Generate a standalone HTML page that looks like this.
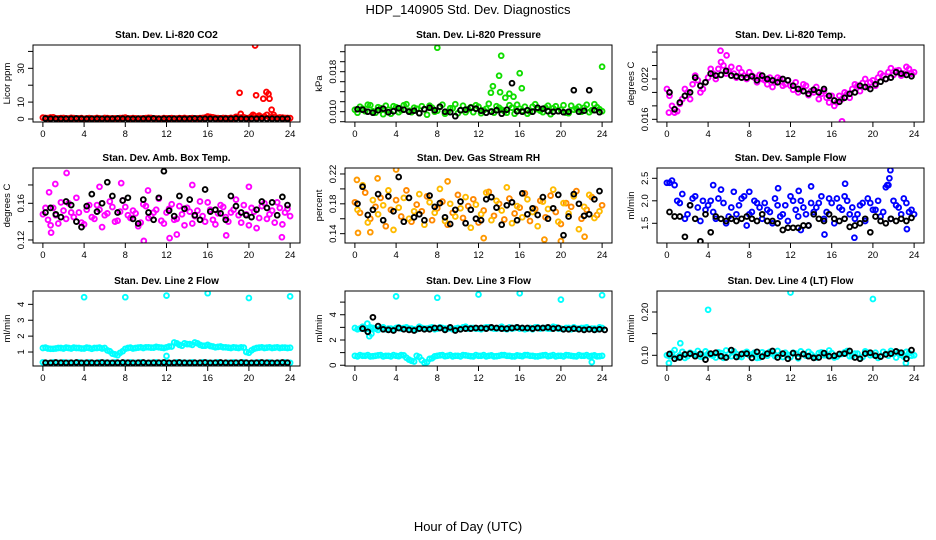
<!DOCTYPE html>
<html><head><meta charset="utf-8">
<style>
html,body{margin:0;padding:0;background:#fff;}
svg{display:block;font-family:"Liberation Sans",Arial,sans-serif;}
</style></head>
<body>
<svg id="chart" width="936" height="540" viewBox="0 0 936 540" xmlns="http://www.w3.org/2000/svg">
<text x="468" y="14" text-anchor="middle" font-size="13">HDP_140905  Std. Dev. Diagnostics</text>
<text x="468" y="531" text-anchor="middle" font-size="13">Hour of Day (UTC)</text>
</svg>
<script>
// ---------- data ----------
const xTicks = [0,4,8,12,16,20,24];

// Panel 1: CO2
const co2Red = [0.8,0.5,1.0,0.4,0.6,0.3,0.5,0.4,0.2,0.5,0.3,0.4,0.6,0.3,0.4,0.5,0.8,0.3,0.4,0.3,0.5,0.6,0.3,0.2,0.4,0.5,0.3,0.4,0.3,0.5,0.4,0.6,1.5,1.0,0.5,0.6,0.4,0.5,0.8,1.0,0.6,2.0,1.2,1.5,0.8,1.0,0.9,0.6,0.5];
const co2Red2 = [0.6,0.9,0.3,0.5,0.4,0.7,0.3,0.5,0.4,0.3,0.6,0.2,0.5,0.4,0.3,0.6,0.4,0.5,0.3,0.4,0.7,0.4,0.3,0.5,0.4,0.3,0.5,0.6,0.4,0.3,0.5,0.8,1.2,0.6,0.4,0.5,0.7,1.3,0.9,0.5,1.5,0.8,1.0,2.5,1.2,0.7,0.8,0.6];
const co2Black = [0.3,0.2,0.2,0.1,0.2,0.2,0.3,0.2,0.1,0.2,0.2,0.2,0.1,0.2,0.3,0.2,0.2,0.1,0.2,0.2,0.2,0.3,0.1,0.2,0.2,0.2,0.2,0.1,0.2,0.3,0.2,0.2,0.2,0.1,0.2,0.2,0.2,0.3,0.2,0.1,0.2,0.2,0.3,0.2,0.2,0.1,0.2,0.2];
const co2OutHours = [19.1,19.2,20.4,20.6,20.7,21.4,21.7,21.9,22.0,22.2,22.4,21.0];
const co2OutValues = [15.5,3,2.5,43.5,14,12,16,14.8,12,5.5,2.5,2.0];
const co2YTicks = [0,10,20,30,40];
const co2YLabels = ["0","10","","30",""];

// Panel 2: Pressure
const presGreen = [0.0104,0.0110,0.0101,0.0113,0.0098,0.0107,0.0112,0.0096,0.0109,0.0103,0.0115,0.0099,0.0106,0.0111,0.0094,0.0108,0.0102,0.0114,0.0100,0.0107,0.0097,0.0112,0.0105,0.0099,0.0110,0.0103,0.0116,0.0098,0.0108,0.0101,0.0113,0.0096,0.0106,0.0110,0.0100,0.0115,0.0102,0.0108,0.0095,0.0111,0.0104,0.0098,0.0112,0.0106,0.0100,0.0114,0.0103,0.0109,0.0101];
const presGreen2 = [0.0098,0.0106,0.0114,0.0101,0.0109,0.0095,0.0104,0.0111,0.0099,0.0113,0.0102,0.0108,0.0097,0.0105,0.0112,0.0100,0.0110,0.0096,0.0107,0.0115,0.0103,0.0099,0.0109,0.0113,0.0097,0.0106,0.0101,0.0111,0.0104,0.0098,0.0108,0.0114,0.0102,0.0096,0.0110,0.0105,0.0099,0.0112,0.0107,0.0101,0.0113,0.0097,0.0104,0.0110,0.0108,0.0099,0.0115,0.0105];
const presBlack = [0.0105,0.0104,0.0100,0.0098,0.0103,0.0106,0.0099,0.0101,0.0107,0.0104,0.0100,0.0102,0.0097,0.0105,0.0108,0.0103,0.0110,0.0100,0.0099,0.0091,0.0103,0.0104,0.0108,0.0106,0.0102,0.0098,0.0100,0.0103,0.0096,0.0104,0.0157,0.0101,0.0100,0.0103,0.0100,0.0108,0.0106,0.0101,0.0100,0.0101,0.0099,0.0100,0.0143,0.0100,0.0102,0.0143,0.0103,0.0099];
const presOutHours = [8.0,14.2,14.0,16.0,16.2,13.4,13.2,14.1,15.0,15.4,24.0,14.6];
const presOutValues = [0.0228,0.0212,0.0172,0.0177,0.0147,0.0151,0.0138,0.0139,0.0136,0.0130,0.0190,0.0128];
const presYTicks = [0.008,0.010,0.012,0.014,0.016,0.018,0.020,0.022];
const presYLabels = ["","0.010","","","","0.018","",""];

// Panel 3: Li-820 temp
const tempMag = [0.0205,0.0180,0.0172,0.0190,0.0200,0.0212,0.0218,0.0205,0.0222,0.0228,0.0235,0.0240,0.0232,0.0228,0.0236,0.0225,0.0230,0.0222,0.0226,0.0218,0.0222,0.0215,0.0220,0.0212,0.0210,0.0215,0.0205,0.0210,0.0202,0.0208,0.0198,0.0192,0.0195,0.0185,0.0190,0.0198,0.0205,0.0210,0.0214,0.0208,0.0218,0.0222,0.0225,0.0230,0.0226,0.0233,0.0228,0.0235,0.0230];
const tempMag2 = [0.0195,0.0170,0.0183,0.0205,0.0190,0.0225,0.0200,0.0215,0.0235,0.0220,0.0245,0.0228,0.0238,0.0222,0.0230,0.0220,0.0225,0.0215,0.0220,0.0212,0.0208,0.0222,0.0210,0.0218,0.0204,0.0200,0.0212,0.0196,0.0200,0.0190,0.0202,0.0185,0.0180,0.0195,0.0200,0.0192,0.0212,0.0202,0.0220,0.0215,0.0210,0.0228,0.0220,0.0236,0.0232,0.0225,0.0238,0.0228];
const tempBlack = [0.0200,0.0175,0.0185,0.0195,0.0200,0.0222,0.0210,0.0215,0.0228,0.0225,0.0226,0.0232,0.0225,0.0224,0.0222,0.0222,0.0224,0.0218,0.0225,0.0220,0.0218,0.0215,0.0220,0.0218,0.0210,0.0205,0.0202,0.0198,0.0204,0.0200,0.0205,0.0195,0.0188,0.0186,0.0192,0.0198,0.0200,0.0210,0.0208,0.0205,0.0212,0.0216,0.0220,0.0222,0.0230,0.0228,0.0226,0.0224];
const tempOutHours = [5.2,5.8,17.0,0.2];
const tempOutValues = [0.0262,0.0255,0.0157,0.0170];
const tempYTicks = [0.016,0.018,0.020,0.022,0.024,0.026];
const tempYLabels = ["0.016","","","0.022","",""];

// Panel 4: Amb box temp
const ambMag = [0.148,0.142,0.155,0.138,0.152,0.160,0.145,0.150,0.137,0.158,0.143,0.153,0.147,0.162,0.140,0.151,0.156,0.144,0.149,0.139,0.157,0.146,0.153,0.141,0.150,0.159,0.143,0.148,0.155,0.138,0.152,0.146,0.161,0.142,0.149,0.156,0.140,0.153,0.147,0.158,0.136,0.151,0.144,0.160,0.148,0.139,0.155,0.150,0.146];
const ambMag2 = [0.155,0.136,0.147,0.161,0.143,0.150,0.166,0.139,0.153,0.145,0.158,0.134,0.149,0.156,0.141,0.163,0.147,0.152,0.135,0.159,0.144,0.150,0.165,0.138,0.154,0.142,0.157,0.136,0.151,0.146,0.162,0.140,0.153,0.137,0.158,0.145,0.150,0.164,0.139,0.148,0.155,0.133,0.157,0.143,0.152,0.161,0.137,0.154];
const ambBlack = [0.150,0.155,0.148,0.145,0.162,0.158,0.140,0.134,0.157,0.170,0.151,0.160,0.183,0.168,0.150,0.163,0.166,0.143,0.138,0.164,0.150,0.142,0.166,0.195,0.152,0.146,0.168,0.154,0.164,0.147,0.142,0.175,0.151,0.153,0.149,0.142,0.168,0.157,0.150,0.147,0.145,0.153,0.162,0.155,0.161,0.147,0.167,0.158];
const ambOutHours = [1.2,2.3,0.6,5.5,9.8,10.2,12.3,13.0,17.8,20.0,23.2,0.8,7.6,14.5];
const ambOutValues = [0.181,0.193,0.172,0.178,0.119,0.174,0.122,0.126,0.125,0.178,0.123,0.128,0.182,0.180];
const ambYTicks = [0.12,0.14,0.16,0.18];
const ambYLabels = ["0.12","","0.16",""];

// Panel 5: Gas stream RH
const rhOrange = [0.182,0.168,0.195,0.160,0.176,0.188,0.150,0.172,0.185,0.163,0.198,0.156,0.179,0.170,0.190,0.158,0.174,0.183,0.152,0.168,0.192,0.161,0.177,0.186,0.155,0.171,0.196,0.164,0.180,0.159,0.187,0.167,0.175,0.194,0.157,0.173,0.184,0.162,0.191,0.169,0.153,0.181,0.176,0.197,0.160,0.172,0.189,0.165,0.178];
const rhYellow = [0.172,0.205,0.155,0.185,0.166,0.178,0.198,0.145,0.175,0.188,0.160,0.170,0.193,0.152,0.182,0.168,0.200,0.157,0.180,0.163,0.174,0.189,0.148,0.179,0.166,0.195,0.158,0.184,0.171,0.202,0.154,0.177,0.162,0.186,0.169,0.150,0.183,0.173,0.199,0.156,0.181,0.167,0.190,0.146,0.176,0.192,0.161,0.170];
const rhBlack = [0.180,0.203,0.165,0.172,0.193,0.158,0.190,0.170,0.216,0.156,0.188,0.162,0.166,0.158,0.191,0.176,0.181,0.162,0.153,0.172,0.183,0.154,0.172,0.160,0.158,0.186,0.189,0.175,0.152,0.178,0.182,0.158,0.194,0.166,0.174,0.165,0.189,0.160,0.174,0.192,0.138,0.163,0.193,0.180,0.164,0.166,0.186,0.197];
const rhOutHours = [0.3,4.0,1.5,20.0,18.4,22.3,12.5,9.0,0.2,2.2];
const rhOutValues = [0.141,0.226,0.142,0.130,0.132,0.136,0.134,0.210,0.212,0.214];
const rhYTicks = [0.14,0.16,0.18,0.20,0.22];
const rhYLabels = ["0.14","","0.18","","0.22"];

// Panel 6: Sample flow
const flowBlue = [2.40,2.45,2.00,2.15,1.70,2.05,1.85,2.00,1.90,1.75,2.05,1.95,1.65,2.20,1.90,2.10,1.70,2.00,1.85,1.95,1.75,2.05,1.65,1.90,2.10,1.80,2.00,1.70,1.95,1.85,2.10,1.75,1.95,2.05,1.80,2.00,1.85,1.70,1.95,2.05,1.80,2.00,1.75,2.35,2.00,1.85,2.05,1.75,1.70];
const flowBlue2 = [2.40,2.35,1.95,1.60,1.90,2.10,1.55,1.80,2.00,1.60,2.25,1.50,1.85,1.70,2.05,1.45,1.75,1.95,1.60,1.80,1.50,1.90,1.70,1.55,2.00,1.65,1.85,1.45,1.75,1.95,1.60,2.05,1.50,1.85,2.10,1.70,1.60,1.90,1.55,1.95,1.80,1.65,2.30,1.60,1.90,1.70,1.95,1.80];
const flowBlack = [1.75,1.65,1.65,1.20,1.90,1.60,1.10,1.70,1.30,1.65,1.60,1.55,1.60,1.55,1.60,1.65,1.60,1.55,1.70,1.55,1.55,1.50,1.35,1.40,1.40,1.40,1.45,1.45,1.70,1.60,1.55,1.70,1.60,1.55,1.60,1.42,1.45,1.50,1.60,1.30,1.65,1.55,1.50,1.60,1.55,1.60,1.55,1.62];
const flowOutHours = [21.7,21.6,21.4,17.3,14.0,8.0,4.5,23.3,18.2,15.3,13.0,10.8,12.8];
const flowOutValues = [2.68,2.50,2.35,2.38,2.32,2.20,2.35,1.37,1.18,1.25,1.35,2.28,2.22];
const flowYTicks = [1.5,2.0,2.5];
const flowYLabels = ["1.5","2.0","2.5"];

// Panel 7: Line 2 flow
const l2Cyan = [1.25,1.22,1.20,1.25,1.22,1.25,1.28,1.25,1.22,1.25,1.25,1.28,1.25,1.05,0.85,0.95,1.20,1.28,1.25,1.30,1.30,1.28,1.32,1.28,1.30,1.35,1.55,1.40,1.50,1.45,1.55,1.40,1.45,1.35,1.32,1.30,1.28,1.30,1.25,1.28,0.95,1.20,1.28,1.25,1.30,1.28,1.25,1.28,1.27];
const l2Cyan2 = [1.28,1.20,1.22,1.25,1.28,1.22,1.25,1.22,1.28,1.20,1.25,1.22,1.10,0.90,0.80,1.05,1.25,1.22,1.28,1.25,1.30,1.28,1.30,1.25,1.35,1.60,1.45,1.55,1.50,1.60,1.45,1.40,1.38,1.30,1.35,1.30,1.25,1.28,1.30,1.00,1.10,1.25,1.30,1.28,1.25,1.30,1.28,1.25];
const l2CyanLow = [0.35,0.30,0.35,0.32,0.35,0.33,0.30,0.35,0.32,0.35,0.30,0.35,0.33,0.32,0.35,0.30,0.33,0.35,0.32,0.35,0.30,0.33,0.35,0.32,0.35,0.30,0.35,0.33,0.32,0.35,0.30,0.35,0.33,0.32,0.35,0.30,0.33,0.35,0.32,0.35,0.30,0.33,0.35,0.32,0.35,0.30,0.33,0.35,0.32];
const l2Black = [0.33,0.32,0.34,0.33,0.32,0.33,0.34,0.32,0.33,0.33,0.32,0.34,0.33,0.32,0.33,0.34,0.33,0.32,0.33,0.34,0.32,0.33,0.33,0.34,0.32,0.33,0.34,0.33,0.32,0.33,0.33,0.34,0.32,0.33,0.34,0.33,0.32,0.33,0.34,0.33,0.32,0.33,0.34,0.33,0.32,0.33,0.34,0.33];
const l2OutHours = [4,8,12,16,20,24,12];
const l2OutValues = [4.45,4.45,4.55,4.70,4.40,4.50,0.75];
const l2YTicks = [1,2,3,4];
const l2YLabels = ["1","2","3","4"];

// Panel 8: Line 3 flow
const l3Cyan = [2.95,2.90,2.85,3.00,2.90,2.95,2.85,2.90,2.95,2.90,3.00,2.90,2.85,2.95,2.90,3.00,2.90,2.95,2.90,2.85,2.95,3.00,2.90,2.95,2.90,2.95,3.00,2.90,2.95,2.90,3.00,2.95,2.90,2.85,2.95,3.00,2.90,2.95,2.90,3.00,2.90,2.95,2.85,2.90,2.95,3.00,2.90,2.85,2.95];
const l3Cyan2 = [2.85,3.05,2.90,2.95,2.80,3.00,2.90,2.85,3.00,2.95,2.90,2.85,3.05,2.90,2.95,2.85,3.00,2.90,2.95,2.90,2.85,3.05,2.95,2.90,2.85,3.00,2.95,2.90,3.05,2.85,2.90,3.00,2.95,2.90,2.85,3.00,2.95,2.90,3.05,2.90,2.85,2.95,3.00,2.90,2.95,2.85,2.90,3.00];
const l3CyanLow = [0.75,0.80,0.75,0.70,0.75,0.80,0.75,0.70,0.75,0.80,0.60,0.35,0.75,0.40,0.25,0.55,0.75,0.80,0.75,0.70,0.75,0.80,0.75,0.70,0.75,0.80,0.75,0.70,0.75,0.80,0.75,0.70,0.75,0.80,0.75,0.70,0.75,0.80,0.75,0.70,0.75,0.80,0.75,0.70,0.75,0.80,0.75,0.70,0.75];
const l3CyanLow2 = [0.70,0.75,0.80,0.72,0.78,0.70,0.75,0.80,0.72,0.78,0.45,0.30,0.65,0.20,0.50,0.70,0.78,0.72,0.80,0.75,0.70,0.78,0.72,0.80,0.75,0.70,0.78,0.72,0.80,0.75,0.70,0.78,0.72,0.80,0.75,0.70,0.78,0.72,0.80,0.75,0.70,0.78,0.72,0.80,0.75,0.70,0.78,0.72];
const l3Black = [2.90,2.65,3.80,3.10,2.85,2.80,2.75,2.95,2.85,2.80,2.75,2.90,2.85,2.85,2.95,2.95,2.80,3.00,2.75,2.85,2.90,2.90,2.95,2.95,2.90,3.00,2.95,2.90,2.90,2.95,3.00,2.95,2.95,2.90,2.95,2.95,3.00,2.90,2.95,2.85,2.85,2.90,2.85,2.80,2.85,2.80,2.85,2.80];
const l3OutHours = [4,8,12,16,20,24,1.2,1.4,1.6,23.0];
const l3OutValues = [5.45,5.35,5.60,5.70,5.20,5.55,3.30,2.30,2.50,0.25];
const l3YTicks = [0,1,2,3,4,5];
const l3YLabels = ["0","","2","","4",""];

// Panel 9: Line 4 flow
const l4Cyan = [0.100,0.105,0.095,0.108,0.098,0.103,0.110,0.096,0.104,0.099,0.107,0.094,0.102,0.109,0.097,0.105,0.100,0.106,0.095,0.103,0.108,0.098,0.101,0.106,0.096,0.104,0.109,0.099,0.102,0.095,0.107,0.100,0.105,0.097,0.103,0.110,0.098,0.104,0.096,0.106,0.101,0.094,0.108,0.099,0.103,0.107,0.097,0.105,0.100];
const l4Cyan2 = [0.098,0.112,0.100,0.094,0.106,0.102,0.097,0.109,0.101,0.095,0.105,0.111,0.098,0.103,0.096,0.108,0.102,0.094,0.107,0.099,0.104,0.110,0.096,0.101,0.106,0.093,0.103,0.108,0.097,0.105,0.100,0.111,0.095,0.102,0.107,0.098,0.104,0.093,0.109,0.100,0.106,0.097,0.103,0.110,0.095,0.101,0.108,0.099];
const l4Black = [0.103,0.092,0.095,0.102,0.104,0.098,0.103,0.090,0.104,0.106,0.098,0.095,0.112,0.096,0.103,0.104,0.094,0.108,0.097,0.104,0.110,0.095,0.104,0.092,0.105,0.096,0.103,0.098,0.094,0.095,0.105,0.098,0.099,0.103,0.104,0.110,0.095,0.092,0.104,0.106,0.099,0.097,0.102,0.104,0.109,0.106,0.092,0.112];
const l4OutHours = [4,12,20,1.3,0.2,23.2];
const l4OutValues = [0.205,0.245,0.230,0.128,0.082,0.082];
const l4YTicks = [0.10,0.15,0.20];
const l4YLabels = ["0.10","","0.20"];

// ---------- drawing ----------
const NS = "http://www.w3.org/2000/svg";
const svg = document.getElementById("chart");
const BOX_W = 267;
const X_MIN = -0.96, X_MAX = 24.96;

function mk(tag, attrs, parent){
  const e = document.createElementNS(NS, tag);
  for (const k in attrs) e.setAttribute(k, attrs[k]);
  parent.appendChild(e);
  return e;
}

function panel(p){
  const g = mk("g", {}, svg);
  
  
  const L = p.left, T = p.top, B = p.bottom;
  const xs = h => L + (h - X_MIN) / (X_MAX - X_MIN) * BOX_W;
  const ys = v => B - (v - p.ymin) / (p.ymax - p.ymin) * (B - T);

  const title = mk("text", {x: L + BOX_W/2, y: T - 7, "text-anchor": "middle", "font-size": 10, "font-weight": "bold"}, g);
  title.textContent = p.title;
  
  

  const clip = "clip-" + p.name;
  const cp = mk("clipPath", {id: clip}, g);
  mk("rect", {x: L, y: T, width: BOX_W, height: B - T}, cp);

  const pts = mk("g", {"clip-path": "url(#" + clip + ")"}, g);
  
  
  p.series.forEach(s => {
    const sg = mk("g", {fill: "none", stroke: s.color, "stroke-width": 1.9}, pts);
    
    
    const hrs = s.hours || s.values.map((_, i) => s.start + i * s.step);
    s.values.forEach((v, i) => {
      const c = mk("circle", {cx: xs(hrs[i]).toFixed(1), cy: ys(v).toFixed(1), r: 2.4}, sg);
      
      
    });
  });

  const box = mk("rect", {x: L, y: T, width: BOX_W, height: B - T, fill: "none", stroke: "#000", "stroke-width": 1}, g);
  
  

  const xa = mk("g", {}, g);
  
  
  mk("line", {x1: xs(xTicks[0]), x2: xs(xTicks[xTicks.length-1]), y1: B, y2: B, stroke: "#000"}, xa);
  xTicks.forEach(t => {
    mk("line", {x1: xs(t), x2: xs(t), y1: B, y2: B + 5, stroke: "#000"}, xa);
    const tx = mk("text", {x: xs(t), y: B + 15, "text-anchor": "middle", "font-size": 9.5}, xa);
    tx.textContent = t;
    
    
  });

  const ya = mk("g", {}, g);
  
  
  mk("line", {x1: L, x2: L, y1: ys(p.yTicks[0]), y2: ys(p.yTicks[p.yTicks.length-1]), stroke: "#000"}, ya);
  p.yTicks.forEach((t, i) => {
    const y = ys(t);
    mk("line", {x1: L - 5, x2: L, y1: y, y2: y, stroke: "#000"}, ya);
    if (p.yLabels[i]) {
      const tx = mk("text", {x: L - 9, y: y, "text-anchor": "middle", "font-size": 9.5, transform: "rotate(-90 " + (L - 9) + " " + y + ")"}, ya);
      tx.textContent = p.yLabels[i];
      
      
    }
  });
  const cy = (T + B) / 2;
  const yl = mk("text", {x: L - 23, y: cy, "text-anchor": "middle", "font-size": 9.5, transform: "rotate(-90 " + (L - 23) + " " + cy + ")"}, g);
  yl.textContent = p.ylab;
  
  
}

const C = (values, color, name, start) => ({values, color, name, start, step: 0.5});
const O = (hours, values, color, name) => ({hours, values, color, name});

panel({name: "co2-panel", title: "Stan. Dev. Li-820 CO2", ylab: "Licor ppm", left: 33, top: 45, bottom: 122, ymin: -1.78, ymax: 43.8,
  yTicks: co2YTicks, yLabels: co2YLabels,
  series: [C(co2Red, "#ff0000", "red-series", 0), C(co2Red2, "#ff0000", "red-series-2", 0.25), O(co2OutHours, co2OutValues, "#ff0000", "red-outliers"), C(co2Black, "#000", "black-series", 0.25)]});

panel({name: "pressure-panel", title: "Stan. Dev. Li-820 Pressure", ylab: "kPa", left: 345, top: 45, bottom: 122, ymin: 0.00794, ymax: 0.02334,
  yTicks: presYTicks, yLabels: presYLabels,
  series: [C(presGreen, "#11dd00", "green-series", 0), C(presGreen2, "#11dd00", "green-series-2", 0.25), O(presOutHours, presOutValues, "#11dd00", "green-outliers"), C(presBlack, "#000", "black-series", 0.25)]});

panel({name: "li820-temp-panel", title: "Stan. Dev. Li-820 Temp.", ylab: "degrees C", left: 657, top: 45, bottom: 122, ymin: 0.0156, ymax: 0.02705,
  yTicks: tempYTicks, yLabels: tempYLabels,
  series: [C(tempMag, "#ff00ff", "magenta-series", 0), C(tempMag2, "#ff00ff", "magenta-series-2", 0.25), O(tempOutHours, tempOutValues, "#ff00ff", "magenta-outliers"), C(tempBlack, "#000", "black-series", 0.25)]});

panel({name: "amb-box-temp-panel", title: "Stan. Dev. Amb. Box Temp.", ylab: "degrees C", left: 33, top: 168, bottom: 243, ymin: 0.1167, ymax: 0.1985,
  yTicks: ambYTicks, yLabels: ambYLabels,
  series: [C(ambMag, "#ff00ff", "magenta-series", 0), C(ambMag2, "#ff00ff", "magenta-series-2", 0.25), O(ambOutHours, ambOutValues, "#ff00ff", "magenta-outliers"), C(ambBlack, "#000", "black-series", 0.25)]});

panel({name: "gas-rh-panel", title: "Stan. Dev. Gas Stream RH", ylab: "percent", left: 345, top: 168, bottom: 243, ymin: 0.1275, ymax: 0.228,
  yTicks: rhYTicks, yLabels: rhYLabels,
  series: [C(rhOrange, "#ff8800", "orange-series", 0), C(rhYellow, "#ffbb00", "yellow-series", 0.25), O(rhOutHours, rhOutValues, "#ff9900", "orange-outliers"), C(rhBlack, "#000", "black-series", 0.25)]});

panel({name: "sample-flow-panel", title: "Stan. Dev. Sample Flow", ylab: "ml/min", left: 657, top: 168, bottom: 243, ymin: 1.062, ymax: 2.729,
  yTicks: flowYTicks, yLabels: flowYLabels,
  series: [C(flowBlue, "#0000ff", "blue-series", 0), C(flowBlue2, "#0000ff", "blue-series-2", 0.25), O(flowOutHours, flowOutValues, "#0000ff", "blue-outliers"), C(flowBlack, "#000", "black-series", 0.25)]});

panel({name: "line2-flow-panel", title: "Stan. Dev. Line 2 Flow", ylab: "ml/min", left: 33, top: 291, bottom: 366, ymin: 0.12, ymax: 4.84,
  yTicks: l2YTicks, yLabels: l2YLabels,
  series: [C(l2Cyan, "#00ffff", "cyan-series", 0), C(l2Cyan2, "#00ffff", "cyan-series-2", 0.25), C(l2CyanLow, "#00ffff", "cyan-low-series", 0), O(l2OutHours, l2OutValues, "#00ffff", "cyan-outliers"), C(l2Black, "#000", "black-series", 0.25)]});

panel({name: "line3-flow-panel", title: "Stan. Dev. Line 3 Flow", ylab: "ml/min", left: 345, top: 291, bottom: 366, ymin: -0.06, ymax: 5.88,
  yTicks: l3YTicks, yLabels: l3YLabels,
  series: [C(l3Cyan, "#00ffff", "cyan-series", 0), C(l3Cyan2, "#00ffff", "cyan-series-2", 0.25), C(l3CyanLow, "#00ffff", "cyan-low-series", 0), C(l3CyanLow2, "#00ffff", "cyan-low-series-2", 0.25), O(l3OutHours, l3OutValues, "#00ffff", "cyan-outliers"), C(l3Black, "#000", "black-series", 0.75)]});

panel({name: "line4-flow-panel", title: "Stan. Dev. Line 4 (LT) Flow", ylab: "ml/min", left: 657, top: 291, bottom: 366, ymin: 0.0753, ymax: 0.2485,
  yTicks: l4YTicks, yLabels: l4YLabels,
  series: [C(l4Cyan, "#00ffff", "cyan-series", 0), C(l4Cyan2, "#00ffff", "cyan-series-2", 0.25), O(l4OutHours, l4OutValues, "#00ffff", "cyan-outliers"), C(l4Black, "#000", "black-series", 0.25)]});
</script>
</body></html>
